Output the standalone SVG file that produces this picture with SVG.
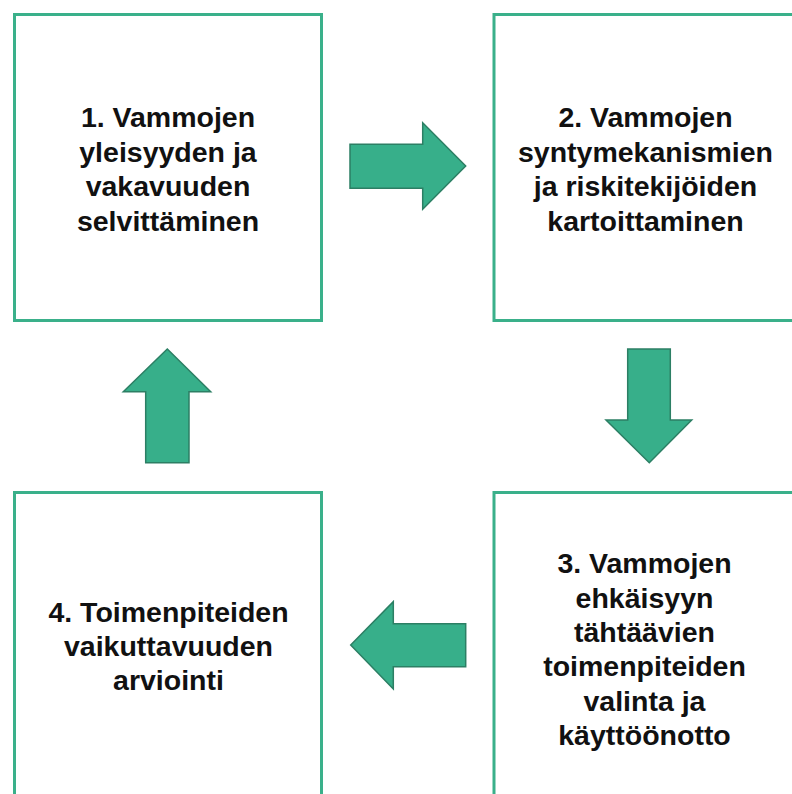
<svg xmlns="http://www.w3.org/2000/svg" width="792" height="794" viewBox="0 0 792 794">
<style>
.box{fill:#fff;stroke:#3AB08A;stroke-width:3}
.lbl{font-family:"Liberation Sans",Arial,sans-serif;font-weight:bold;font-size:28.5px;fill:#111;text-anchor:middle}
.arr{fill:#37AF8A;stroke:#2C7F64;stroke-width:1.5;stroke-linejoin:miter}
</style>
<rect width="792" height="794" fill="#fff"/>
<g id="node1">
<rect class="box" x="14.5" y="14.5" width="307" height="306"/>
<text class="lbl"><tspan x="168" y="127.3">1. Vammojen</tspan><tspan x="168" y="161.8">yleisyyden ja</tspan><tspan x="168" y="196.3">vakavuuden</tspan><tspan x="168" y="230.8">selvittäminen</tspan></text>
</g>
<g id="node2">
<rect class="box" x="494" y="14.5" width="307" height="306"/>
<text class="lbl"><tspan x="645.5" y="127.3">2. Vammojen</tspan><tspan x="645.5" y="161.8">syntymekanismien</tspan><tspan x="645.5" y="196.3">ja riskitekijöiden</tspan><tspan x="645.5" y="230.8">kartoittaminen</tspan></text>
</g>
<g id="node3">
<rect class="box" x="494" y="492.5" width="307" height="307"/>
<text class="lbl"><tspan x="644.5" y="573.3">3. Vammojen</tspan><tspan x="644.5" y="607.6">ehkäisyyn</tspan><tspan x="644.5" y="641.9">tähtäävien</tspan><tspan x="644.5" y="676.2">toimenpiteiden</tspan><tspan x="644.5" y="710.5">valinta ja</tspan><tspan x="644.5" y="744.8">käyttöönotto</tspan></text>
</g>
<g id="node4">
<rect class="box" x="14.5" y="492.5" width="307" height="307"/>
<text class="lbl"><tspan x="168.5" y="621.5">4. Toimenpiteiden</tspan><tspan x="168.5" y="655.8">vaikuttavuuden</tspan><tspan x="168.5" y="690">arviointi</tspan></text>
</g>
<g id="connectors">
<polygon class="arr" points="350,144.3 422.7,144.3 422.7,122.7 465.7,166 422.7,209.3 422.7,188.3 350,188.3"/>
<polygon class="arr" points="627.7,349 670.3,349 670.3,420 691.7,420 649.3,462.7 606,420 627.7,420"/>
<polygon class="arr" points="167.3,349 210.7,391.7 189,391.7 189,462.7 145.7,462.7 145.7,391.7 123.3,391.7"/>
<polygon class="arr" points="350.7,645 393.3,601.7 393.3,623.7 465.7,623.7 465.7,666.7 393.3,666.7 393.3,689"/>
</g>
</svg>
